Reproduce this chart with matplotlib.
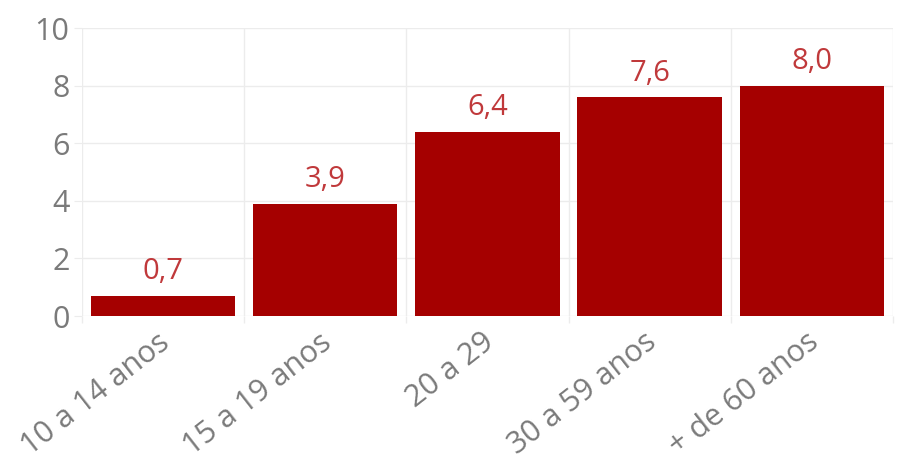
import matplotlib.pyplot as plt
import matplotlib.transforms as mtransforms
import numpy as np
from matplotlib.ticker import FixedLocator

categories = ["10 a 14 anos", "15 a 19 anos", "20 a 29", "30 a 59 anos", "+ de 60 anos"]
values = [0.7, 3.9, 6.4, 7.6, 8.0]
yticks = [0, 2, 4, 6, 8, 10]

bar_color = "#a50000"
label_color = "#c0393b"
text_gray = "#7a7a7a"
grid_color = "#ececec"

plt.rcParams["font.family"] = ["Open Sans", "DejaVu Sans"]

fig = plt.figure(figsize=(8.98, 4.62), dpi=100)
ax = fig.add_axes([0.0913, 0.316, 0.9031, 0.623])

x = np.arange(len(categories))
bars = ax.bar(x, values, width=0.89, color=bar_color, zorder=3)

for b, v in zip(bars, values):
    ax.annotate(f"{v:.1f}".replace(".", ","),
                (b.get_x() + b.get_width() / 2, v),
                xytext=(0, 7), textcoords="offset points",
                ha="center", va="bottom", fontsize=21, color=label_color)

ax.set_xlim(-0.5, len(categories) - 0.5)
ax.set_ylim(0, 10)
ax.set_yticks(yticks)
ax.set_yticklabels([str(t) for t in yticks])
ax.set_xticks(x)
ax.set_xticklabels(categories, rotation=38, ha="right", va="top", rotation_mode="anchor")
ax.xaxis.set_minor_locator(FixedLocator(np.arange(-0.5, len(categories), 1.0)))

ax.tick_params(axis="x", which="major", length=0, pad=8, labelsize=22, labelcolor=text_gray)
ax.tick_params(axis="x", which="minor", length=5, color=grid_color, width=1)
ax.tick_params(axis="y", length=6, color=grid_color, labelsize=22, labelcolor=text_gray, pad=3)

# nudge the rotated category labels a little to the left
shift = mtransforms.ScaledTranslation(-6 / 100, 0, fig.dpi_scale_trans)
for lbl in ax.get_xticklabels():
    lbl.set_transform(lbl.get_transform() + shift)

ax.grid(axis="y", color=grid_color, linewidth=1, zorder=0)
ax.grid(axis="x", which="minor", color=grid_color, linewidth=1, zorder=0)
for s in ax.spines.values():
    s.set_visible(False)

fig.savefig("out.png", dpi=100)
